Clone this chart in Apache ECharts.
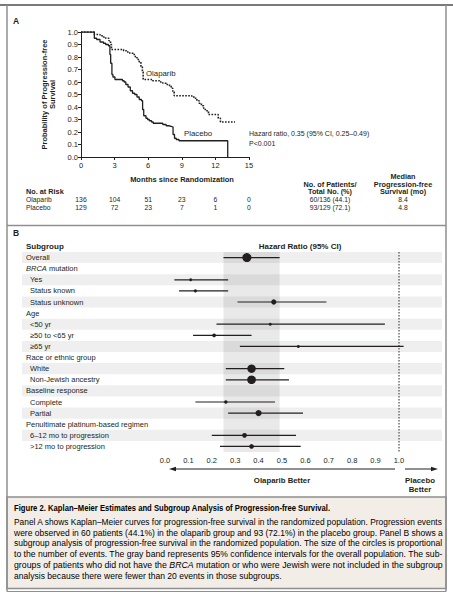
<!DOCTYPE html>
<html><head><meta charset="utf-8">
<script src="https://cdn.jsdelivr.net/npm/echarts@6/dist/echarts.min.js"></script>
<style>html,body{margin:0;padding:0;background:#fff}#c{width:453px;height:600px}</style>
</head><body><div id="c"></div>
<script>
const FONT = 'Liberation Sans';
const INK = '#231f20';

// ---------- Panel A data ----------
const kmTicks = [0, 3, 6, 9, 12, 15];
const olaparibTime = [0, 1.19, 1.7, 2.0, 2.2, 2.5, 2.64, 2.72, 3.8, 4.05, 4.35, 4.65, 4.85, 5.0, 5.2, 5.35, 5.48, 5.55, 6.4, 7.0, 7.3, 7.6, 7.9, 8.05, 8.2, 8.32, 9.9, 10.15, 10.35, 10.55, 10.75, 10.95, 11.1, 11.38, 12.25, 12.45, 13.75];
const olaparibSurv = [1.0, 0.98, 0.97, 0.96, 0.95, 0.93, 0.90, 0.86, 0.85, 0.84, 0.83, 0.82, 0.80, 0.78, 0.76, 0.72, 0.68, 0.62, 0.61, 0.60, 0.59, 0.58, 0.57, 0.55, 0.52, 0.49, 0.48, 0.47, 0.45, 0.43, 0.41, 0.39, 0.37, 0.34, 0.31, 0.28, 0.28];
const placeboTime = [0, 1.19, 1.4, 1.7, 2.0, 2.2, 2.45, 2.58, 2.65, 2.76, 2.85, 3.03, 3.7, 3.85, 4.0, 4.2, 4.4, 4.6, 4.8, 5.0, 5.2, 5.4, 5.5, 5.6, 5.8, 5.95, 6.1, 6.3, 6.45, 7.3, 7.6, 7.85, 8.05, 8.22, 8.35, 8.5, 8.75, 13.1];
const placeboSurv = [1.0, 0.95, 0.94, 0.92, 0.91, 0.90, 0.89, 0.82, 0.75, 0.66, 0.64, 0.62, 0.61, 0.60, 0.58, 0.56, 0.53, 0.51, 0.50, 0.48, 0.46, 0.45, 0.38, 0.33, 0.31, 0.30, 0.29, 0.28, 0.27, 0.26, 0.25, 0.245, 0.24, 0.18, 0.15, 0.14, 0.13, 0.0];
const atRiskOlaparib = [136, 104, 51, 23, 6, 0];
const atRiskPlacebo = [129, 72, 23, 7, 1, 0];
const eventsText = ['60/136 (44.1)', '93/129 (72.1)'];
const medianPFS = ['8.4', '4.8'];

// ---------- Panel B data ----------
const subgroups = ['Overall', 'BRCA mutation', 'Yes', 'Status known', 'Status unknown', 'Age', '<50 yr', '\u226550 to <65 yr', '\u226565 yr', 'Race or ethnic group', 'White', 'Non-Jewish ancestry', 'Baseline response', 'Complete', 'Partial', 'Penultimate platinum-based regimen', '6\u201312 mo to progression', '>12 mo to progression'];
const subLevel = [0, 0, 1, 1, 1, 0, 1, 1, 1, 0, 1, 1, 0, 1, 1, 0, 1, 1];
const hr     = [0.35, null, 0.11, 0.13, 0.465, null, 0.45, 0.21, 0.57, null, 0.37, 0.37, null, 0.26, 0.40, null, 0.34, 0.37];
const ciLow  = [0.25, null, 0.04, 0.06, 0.31, null, 0.22, 0.12, 0.32, null, 0.26, 0.26, null, 0.13, 0.27, null, 0.20, 0.235];
const ciHigh = [0.49, null, 0.27, 0.27, 0.69, null, 0.94, 0.37, 1.02, null, 0.51, 0.53, null, 0.47, 0.59, null, 0.56, 0.58];
const events = [153, null, 22, 25, 70, null, 22, 40, 22, null, 140, 145, null, 30, 90, null, 60, 58];
const hrTicks = [0, 0.1, 0.2, 0.3, 0.4, 0.5, 0.6, 0.7, 0.8, 0.9, 1.0];

// ---------- Caption ----------
const captionTitle = [['Figure 2.', 'r'], [' Kaplan\u2013Meier Estimates and Subgroup Analysis of Progression-free Survival.', 'b']];
const captionLines = [
  [['Panel A shows Kaplan\u2013Meier curves for progression-free survival in the randomized population. Progression events', 'n']],
  [['were observed in 60 patients (44.1%) in the olaparib group and 93 (72.1%) in the placebo group. Panel B shows a', 'n']],
  [['subgroup analysis of progression-free survival in the randomized population. The size of the circles is proportional', 'n']],
  [['to the number of events. The gray band represents 95% confidence intervals for the overall population. The sub-', 'n']],
  [['groups of patients who did not have the ', 'n'], ['BRCA', 'i'], [' mutation or who were Jewish were not included in the subgroup', 'n']],
  [['analysis because there were fewer than 20 events in those subgroups.', 'n']]
];

const chart = echarts.init(document.getElementById('c'), null, {renderer: 'svg'});

const axisCommon = {
  axisLine: {lineStyle: {color: INK, width: 1}},
  axisTick: {length: 3, lineStyle: {color: INK, width: 1}},
  splitLine: {show: false},
  axisLabel: {fontSize: 7.5, color: INK, fontFamily: FONT, margin: 3}
};

const rowIdx = subgroups.map((s, i) => i);

const option = {
  animation: false,
  textStyle: {fontFamily: FONT, color: INK},
  grid: [
    {left: 81, top: 32, width: 168, height: 125},
    {left: 165, top: 252, width: 269, height: 200}
  ],
  xAxis: [
    Object.assign({}, axisCommon, {gridIndex: 0, type: 'value', min: 0, max: 15, interval: 3,
      axisLabel: Object.assign({}, axisCommon.axisLabel, {margin: 4})}),
    {gridIndex: 1, type: 'value', min: 0, max: 1.15, interval: 0.1, z: 10,
      axisLine: {lineStyle: {color: '#555', width: 1}},
      axisTick: {length: 3, lineStyle: {color: '#555'}, customValues: hrTicks},
      splitLine: {show: false},
      axisLabel: {fontSize: 7.5, color: INK, fontFamily: FONT, margin: 4, customValues: hrTicks,
        formatter: v => v > 1.001 ? '' : v.toFixed(1)}}
  ],
  yAxis: [
    Object.assign({}, axisCommon, {gridIndex: 0, type: 'value', min: 0, max: 1, interval: 0.1,
      name: 'Probability of Progression-free\nSurvival', nameLocation: 'middle', nameGap: 25, nameRotate: 90,
      nameTextStyle: {fontSize: 7.5, fontWeight: 'bold', lineHeight: 7.5, color: INK, fontFamily: FONT},
      axisLabel: Object.assign({}, axisCommon.axisLabel, {formatter: v => v.toFixed(1)})}),
    {gridIndex: 1, type: 'category', data: subgroups, inverse: true, z: 10,
      axisLine: {show: false}, axisTick: {show: false}, splitLine: {show: false},
      axisLabel: {interval: 0, align: 'left', margin: 139, color: INK, fontFamily: FONT, fontSize: 7.5,
        formatter: (v, i) => {
          if (v === 'BRCA mutation') return '{hi|BRCA}{h| mutation}';
          return subLevel[i] ? '{s|' + v + '}' : '{h|' + v + '}';
        },
        rich: {
          h: {fontSize: 7.5, color: INK, fontFamily: FONT},
          hi: {fontSize: 7.5, color: INK, fontFamily: FONT, fontStyle: 'italic'},
          s: {fontSize: 7.5, color: INK, fontFamily: FONT, padding: [0, 0, 0, 4]}
        }}}
  ],
  series: [
    {name: 'Olaparib', type: 'line', xAxisIndex: 0, yAxisIndex: 0, step: 'end', showSymbol: false, z: 3,
      data: olaparibTime.map((t, i) => [t, olaparibSurv[i]]),
      lineStyle: {color: INK, width: 1.6, type: [1.6, 1.4]}},
    {name: 'Placebo', type: 'line', xAxisIndex: 0, yAxisIndex: 0, step: 'end', showSymbol: false, z: 3,
      data: placeboTime.map((t, i) => [t, placeboSurv[i]]),
      lineStyle: {color: INK, width: 1.3}},
    {name: 'stripes', type: 'custom', xAxisIndex: 1, yAxisIndex: 1, z: 0, zlevel: 0, silent: true,
      data: rowIdx.filter(i => i % 2 === 0).map(i => [0, i]),
      renderItem: (params, api) => {
        const c = api.coord([0, api.value(1)]);
        const h = api.size([0, 1])[1];
        return {type: 'rect', shape: {x: 22, y: c[1] - h / 2, width: 420, height: h}, style: {fill: '#efefef'}};
      }},
    {name: 'band', type: 'custom', xAxisIndex: 1, yAxisIndex: 1, z: 1, silent: true,
      encode: {x: [0, 1]},
      data: [[ciLow[0], ciHigh[0]]],
      renderItem: (params, api) => {
        const p0 = api.coord([api.value(0), 0]);
        const p1 = api.coord([api.value(1), subgroups.length - 1]);
        const h = api.size([0, 1])[1];
        return {type: 'rect', shape: {x: p0[0], y: p0[1] - h / 2, width: p1[0] - p0[0], height: p1[1] - p0[1] + h},
          style: {fill: 'rgba(0,0,0,0.085)'}};
      }},
    {name: 'ci', type: 'custom', xAxisIndex: 1, yAxisIndex: 1, z: 4, silent: true,
      encode: {x: [0, 1], y: 2},
      data: rowIdx.filter(i => hr[i] != null).map(i => [ciLow[i], ciHigh[i], i]),
      renderItem: (params, api) => {
        const a = api.coord([api.value(0), api.value(2)]);
        const b = api.coord([api.value(1), api.value(2)]);
        return {type: 'line', shape: {x1: a[0], y1: a[1], x2: b[0], y2: b[1]}, style: {stroke: INK, lineWidth: 1.2}};
      }},
    {name: 'hr', type: 'scatter', xAxisIndex: 1, yAxisIndex: 1, z: 5, silent: true,
      data: rowIdx.filter(i => hr[i] != null).map(i => [hr[i], i, events[i]]),
      symbolSize: v => 2 + v[2] * 0.046,
      itemStyle: {color: INK, opacity: 1},
      markLine: {silent: true, symbol: 'none', label: {show: false}, z: 3,
        lineStyle: {color: '#6d6d6d', width: 1.5, type: [1.5, 1.5]},
        data: [{xAxis: 1}]}}
  ]
};
chart.setOption(option);

// ---------- graphic annotations ----------
const mctx = document.createElement('canvas').getContext('2d');
const richDef = {
  n: {fontSize: 8.6, fontFamily: FONT, color: INK},
  i: {fontSize: 8.6, fontFamily: FONT, color: INK, fontStyle: 'italic'},
  b: {fontSize: 8.6, fontFamily: FONT, color: INK, fontWeight: 'bold'},
  r: {fontSize: 8.6, fontFamily: FONT, color: '#9e1b22', fontWeight: 'bold'}
};
function segWidth(segs) {
  let w = 0;
  segs.forEach(([t, k]) => {
    const d = richDef[k];
    mctx.font = (d.fontStyle || 'normal') + ' ' + (d.fontWeight || 'normal') + ' ' + d.fontSize + 'px "' + FONT + '"';
    w += mctx.measureText(t).width;
  });
  return w;
}
function richText(segs, x, y, targetW) {
  const w = segWidth(segs);
  return {type: 'text', x: x, y: y, scaleX: targetW / w, silent: true,
    style: {text: segs.map(([t, k]) => '{' + k + '|' + t + '}').join(''), rich: richDef, verticalAlign: 'middle', align: 'left'}};
}
function txt(text, x, y, opt) {
  opt = opt || {};
  return {type: 'text', x: x, y: y, silent: true,
    style: {text: text, fontFamily: FONT, fontSize: opt.size || 7, fontWeight: opt.bold ? 'bold' : 'normal',
      fill: INK, align: opt.align || 'left', verticalAlign: 'middle'}};
}
const g = [];
// frame
const frameColor = '#8f8f8f';
g.push({type: 'rect', shape: {x: 7, y: 497, width: 439, height: 91.5}, style: {fill: '#f2eee7', stroke: frameColor, lineWidth: 1.5}, silent: true});
g.push({type: 'line', shape: {x1: 0, y1: 5, x2: 453, y2: 5}, style: {stroke: '#7a7a7a', lineWidth: 2}, silent: true});
g.push({type: 'line', shape: {x1: 7, y1: 5, x2: 7, y2: 591.5}, style: {stroke: frameColor, lineWidth: 1.5}, silent: true});
g.push({type: 'line', shape: {x1: 446, y1: 5, x2: 446, y2: 591.5}, style: {stroke: frameColor, lineWidth: 1.5}, silent: true});
g.push({type: 'line', shape: {x1: 7, y1: 225.5, x2: 446, y2: 225.5}, style: {stroke: frameColor, lineWidth: 1.5}, silent: true});
g.push({type: 'line', shape: {x1: 7, y1: 591.5, x2: 446, y2: 591.5}, style: {stroke: frameColor, lineWidth: 1.2}, silent: true});

// Panel A texts
g.push(txt('A', 13, 20.5, {size: 8.5, bold: true}));
g.push(txt('Olaparib', 146, 73, {size: 7.8}));
g.push(txt('Placebo', 184, 133, {size: 7.8}));
g.push(txt('Hazard ratio, 0.35 (95% CI, 0.25\u20130.49)', 249, 133, {size: 7}));
g.push(txt('P<0.001', 249, 143, {size: 7}));
g.push(txt('Months since Randomization', 182, 179, {size: 7.5, bold: true, align: 'center'}));
g.push(txt('No. at Risk', 26, 191.5, {size: 7.3, bold: true}));
g.push(txt('Olaparib', 26, 199.5, {size: 6.8}));
g.push(txt('Placebo', 26, 207, {size: 6.8}));
kmTicks.forEach((t, i) => {
  const px = chart.convertToPixel({gridIndex: 0}, [t, 0])[0];
  g.push(txt(String(atRiskOlaparib[i]), px, 199.5, {size: 6.8, align: 'center'}));
  g.push(txt(String(atRiskPlacebo[i]), px, 207, {size: 6.8, align: 'center'}));
});
g.push(txt('No. of Patients/', 330, 184, {size: 7.3, bold: true, align: 'center'}));
g.push(txt('Total No. (%)', 330, 191.5, {size: 7.3, bold: true, align: 'center'}));
g.push(txt('Median', 403, 176.5, {size: 7.3, bold: true, align: 'center'}));
g.push(txt('Progression-free', 403, 184, {size: 7.3, bold: true, align: 'center'}));
g.push(txt('Survival (mo)', 403, 191.5, {size: 7.3, bold: true, align: 'center'}));
eventsText.forEach((t, i) => g.push(txt(t, 330, 199.5 + i * 7.5, {size: 6.8, align: 'center'})));
medianPFS.forEach((t, i) => g.push(txt(t, 403, 199.5 + i * 7.5, {size: 6.8, align: 'center'})));

// Panel B texts
g.push(txt('B', 13, 232.5, {size: 8.5, bold: true}));
g.push(txt('Subgroup', 26, 246.5, {size: 8, bold: true}));
g.push(txt('Hazard Ratio (95% CI)', 300, 246.5, {size: 8, bold: true, align: 'center'}));
g.push(txt('Olaparib Better', 282, 480.5, {size: 7.8, bold: true, align: 'center'}));
g.push(txt('Placebo', 420, 480.5, {size: 7.8, bold: true, align: 'center'}));
g.push(txt('Better', 420, 489.5, {size: 7.8, bold: true, align: 'center'}));
// arrows
g.push({type: 'line', shape: {x1: 395, y1: 469, x2: 174, y2: 469}, style: {stroke: INK, lineWidth: 1}, silent: true});
g.push({type: 'polygon', shape: {points: [[169, 469], [176, 466.8], [176, 471.2]]}, style: {fill: INK}, silent: true});
g.push({type: 'line', shape: {x1: 405, y1: 469, x2: 433, y2: 469}, style: {stroke: INK, lineWidth: 1}, silent: true});
g.push({type: 'polygon', shape: {points: [[438, 469], [431, 466.8], [431, 471.2]]}, style: {fill: INK}, silent: true});

// Caption
g.push(richText(captionTitle, 14, 508.5, 317));
const fullW = 429;
let scales = [];
captionLines.forEach((segs, i) => {
  if (i < captionLines.length - 1) {
    g.push(richText(segs, 14, 521.7 + i * 10.85, fullW));
    scales.push(fullW / segWidth(segs));
  }
});
const avgS = scales.reduce((a, b) => a + b, 0) / scales.length;
const last = captionLines[captionLines.length - 1];
g.push(richText(last, 14, 521.7 + (captionLines.length - 1) * 10.85, segWidth(last) * avgS));

chart.setOption({graphic: {elements: g}});
</script>
</body></html>
